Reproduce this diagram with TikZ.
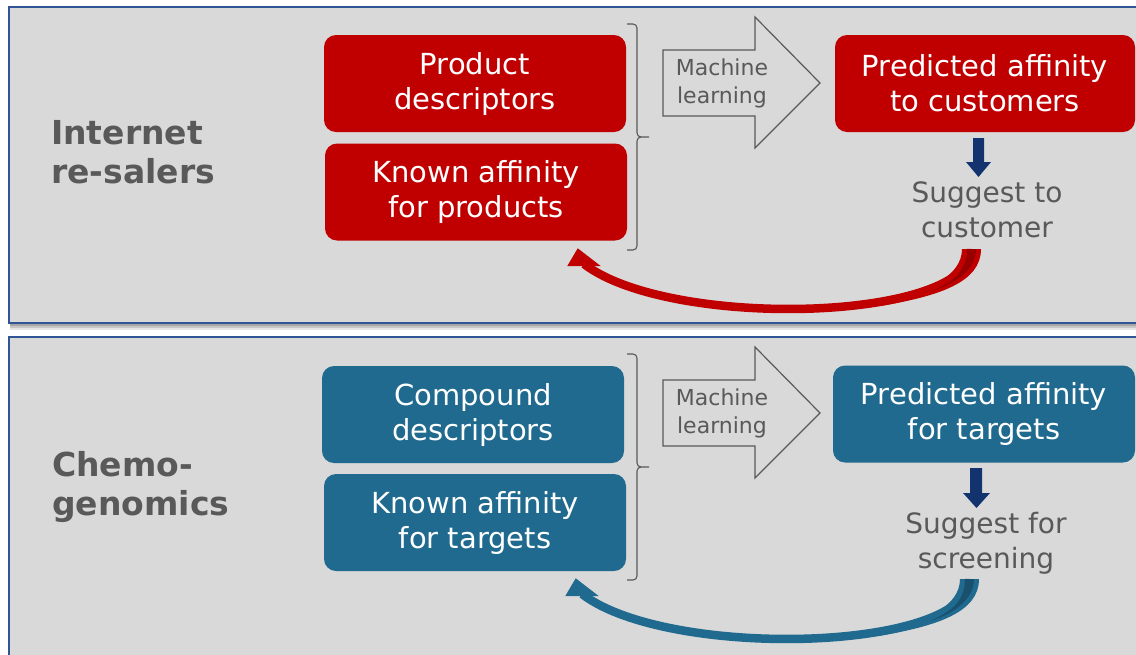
\documentclass[tikz,border=0pt]{standalone}
\usepackage{fontspec}
\setmainfont{DejaVu Sans}
\usetikzlibrary{calc}

\definecolor{panelfill}{HTML}{D9D9D9}
\definecolor{panelline}{HTML}{2F5597}
\definecolor{redbox}{HTML}{C00000}
\definecolor{reddark}{HTML}{980000}
\definecolor{bluebox}{HTML}{1F6A8E}
\definecolor{bluedark}{HTML}{18506E}
\definecolor{txtgray}{HTML}{595959}
\definecolor{navy}{HTML}{12336E}

\tikzset{
  panel/.style={fill=panelfill, draw=panelline, line width=1.5pt},
  databox/.style={rounded corners=12pt, minimum width=302pt, minimum height=97pt,
    inner sep=0pt, text=white, align=center, font=\fontsize{29}{35}\selectfont},
  title/.style={anchor=west, inner sep=0pt, text=txtgray, align=left,
    font=\bfseries\fontsize{33}{39}\selectfont},
  note/.style={inner sep=0pt, text=txtgray, align=center, font=\fontsize{28}{35}\selectfont},
  mltext/.style={inner sep=0pt, text=txtgray, align=center, font=\fontsize{22}{28}\selectfont},
  blockarrow/.style={fill=panelfill, draw=txtgray, line width=1.2pt, line join=miter},
  bracket/.style={draw=txtgray, line width=1.1pt},
}

% ribbon-like feedback arrow running under a row, back to the input boxes
\newcommand{\feedbackarrow}[2]{%
  % body of the ribbon
  \draw[#1, line width=8.5pt, line cap=butt]
    (971.5,249) .. controls (971.5,322) and (670,330) .. (584,264);
  % widened start of the ribbon, tapering into the body
  \fill[#1] (962,249) -- (981,249) .. controls (981,282) and (940,296.2) .. (878.7,306.2)
    .. controls (930,292) and (962,275) .. (962,249) -- cycle;
  % shaded back face at the start
  \fill[#2] (967,249) .. controls (967,270) and (955,281) .. (932,291)
    .. controls (958,283) and (976,268) .. (976,249) -- cycle;
  % head
  \fill[#1] (600.7,266) -- (577.7,248.3) -- (567.3,266) -- cycle;
}
% bracket gathering the two input boxes
\newcommand{\inputbracket}{%
  \draw[bracket] (627,24) -- (633,24) to[out=0,in=90] (637,28) -- (637,133)
    to[out=-90,in=180] (641,137) -- (649,137);
  \draw[bracket] (641,137) to[out=180,in=90] (637,141) -- (637,246)
    to[out=-90,in=0] (633,250) -- (627,250);
}
% "Machine learning" block arrow
\newcommand{\mlarrow}[1]{%
  \draw[blockarrow] (663,50) -- (755,50) -- (755,17) -- (820,83) -- (755,148)
    -- (755,116) -- (663,116) -- cycle;
  \node[mltext] (#1) at (722,83) {Machine\\learning};
}

\begin{document}
\begin{tikzpicture}[x=1pt,y=-1pt]
\useasboundingbox (0,0) rectangle (1136,654);
\fill[white] (0,0) rectangle (1136,654);
\begin{scope}
\clip (0,0) rectangle (1136,654);

% ---------- top panel: internet re-salers ----------
\fill[black!10] (10,9) rectangle (1150,330);
\fill[black!22] (10,9) rectangle (1150,328);
\fill[black!35] (10,9) rectangle (1150,326);
\draw[panel] (9,7) rectangle (1150,323);

\node[title] (t1) at (51,152) {Internet\\re-salers};
\node[databox, fill=redbox] (prod) at (475,83.5) {Product\\descriptors};
\node[databox, fill=redbox] (kaff) at (476,192) {Known affinity\\for products};
\inputbracket
\mlarrow{ml}
\node[databox, fill=redbox, minimum width=300pt] (pred) at (985,83.5) {Predicted affinity\\to customers};
\node[note] (sug) at (987,210) {Suggest to\\customer};
\fill[navy] (973,138) -- (984,138) -- (984,162) -- (991,162) -- (978.5,177)
  -- (966,162) -- (973,162) -- cycle;
\feedbackarrow{redbox}{reddark}

% ---------- bottom panel: chemogenomics ----------
\draw[panel] (9,337) rectangle (1150,680);

\node[title] (t2) at (52,487) {Chemo-\\genomics};
\node[databox, fill=bluebox] (comp) at (473,414.5) {Compound\\descriptors};
\node[databox, fill=bluebox] (kaff2) at (475,522.5) {Known affinity\\for targets};
\begin{scope}[yshift=-330pt]
  \inputbracket
  \mlarrow{ml2}
\end{scope}
\node[databox, fill=bluebox, minimum width=302pt] (pred2) at (984,414) {Predicted affinity\\for targets};
\node[note] (sug2) at (986,543) {Suggest for\\screening};
\fill[navy] (970,468) -- (982,468) -- (982,493) -- (990,493) -- (976.5,508)
  -- (963,493) -- (970,493) -- cycle;
\begin{scope}[xshift=-2pt, yshift=-330pt]
  \feedbackarrow{bluebox}{bluedark}
\end{scope}
\end{scope}
\end{tikzpicture}
\end{document}
